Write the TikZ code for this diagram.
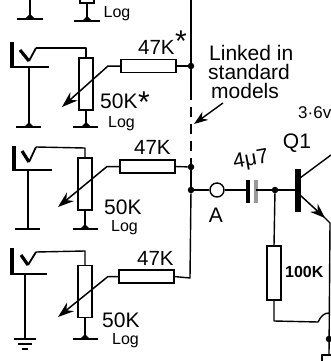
\documentclass[tikz,border=0pt]{standalone}
\usepackage{fontspec}
\setmainfont{Liberation Sans}
\usetikzlibrary{arrows.meta,calc}
\tikzset{
  wire/.style={line width=1.4pt,line join=round},
  resbox/.style={draw,line width=1.3pt,fill=white,inner sep=0pt,outer sep=0pt,rectangle},
  volbox/.style={resbox,minimum width=14pt,minimum height=52pt},
  serbox/.style={resbox,minimum width=55pt,minimum height=13pt},
  dotj/.style={circle,fill=black,inner sep=0pt,minimum size=6.5pt},
  gbar/.style={line width=2.8pt},
  jackl/.style={line width=1.5pt,line join=miter},
  jackv/.style={line width=3.2pt,line cap=butt},
  veethick/.style={line width=3.2pt},
  veethin/.style={line width=1.8pt},
  wiper/.style={line width=1.5pt,-{Stealth[length=16pt,width=11pt]}},
  big/.style={font=\fontsize{20.5}{20}\selectfont,inner sep=0pt},
  fifty/.style={font=\fontsize{21}{21}\selectfont,inner sep=0pt},
  lognote/.style={font=\fontsize{16}{16}\selectfont,inner sep=0pt},
  note/.style={font=\fontsize{21}{21}\selectfont,inner sep=0pt,anchor=base west},
  starmark/.style={font=\fontsize{30}{30}\selectfont,inner sep=0pt},
}
\begin{document}
\begin{tikzpicture}[x=1pt,y=-1pt]
\useasboundingbox (0,0) rectangle (331,361);
\fill[white] (0,0) rectangle (331,361);
\begin{scope}
\clip (0,0) rectangle (331,361);

% top fragment
\coordinate (t1) at (30,0); \coordinate (t1g) at (30,19);
\coordinate (t2) at (87,0); \coordinate (t2g) at (87,21);
\draw[wire] (t1)--(t1g); \draw[wire] (t2)--(t2g);
\node[resbox,minimum width=14pt,minimum height=6pt] at (87,0) {};
\draw[gbar] (17,19)--(43,19); \draw[gbar] (74,21)--(100,21);
\fill (26,18)--(30,14)--(34,18)--cycle; \fill (83,20)--(87,16)--(91,20)--cycle;
\node[lognote] at (117,14) {Log};

% bus
\node[dotj] (j1) at (191,66) {};
\node[dotj] (j2) at (191,167) {};
\node[dotj] (j3) at (191,190) {};
\coordinate (bt) at (191,0);
\coordinate (bd) at (191,90);
\draw[wire] (bt)--(j1)--(bd);
\draw[wire,dash pattern=on 10pt off 7pt] (bd)--(j2);
\draw[wire] (j2)--(j3);

% channel 1
\node[volbox] (v1) at (86,84) {};
\node[serbox,anchor=west] (s1) at (121,66) {};
\draw[jackv] (12,42)--(12,68);
\draw[jackl] (11,67)--(49,67);
\draw[veethick] (20,50)--(29,61);
\draw[veethin] (29,61)--(36,48);
\coordinate (c1) at (36,48);
\draw[wire] (c1)--(86,48)--(v1.north);
\coordinate (g1a) at (29,127); \coordinate (g1b) at (86,127);
\draw[wire] (29,67)--(g1a); \draw[wire] (v1.south)--(g1b);
\draw[gbar] (16,127)--(41,127); \draw[gbar] (73,127)--(98,127);
\fill (25,126)--(29,122)--(33,126)--cycle; \fill (82,126)--(86,122)--(90,126)--cycle;
\draw[wiper] (s1.west)--(108,66)--(62,107);
\draw[wire] (s1.east)--(j1);
\node[big,anchor=west] at (138,47) {47K};
\node[starmark] at (181,41) {*};
\node[fifty,anchor=west] at (100,101) {50K};
\node[starmark] at (144,102) {*};
\node[lognote,anchor=west] at (108,124) {Log};

% channel 2
\node[volbox] (v2) at (85,184) {};
\node[serbox,anchor=west] (s2) at (120,166.5) {};
\draw[jackv] (14,146)--(14,171);
\draw[jackl] (13,170)--(52,170);
\draw[veethick] (22,151)--(29,162);
\draw[veethin] (29,162)--(36,147);
\coordinate (c2) at (36,147);
\draw[wire] (c2)--(85,148)--(v2.north);
\coordinate (g2a) at (28,229); \coordinate (g2b) at (85,229);
\draw[wire] (28,170)--(g2a); \draw[wire] (v2.south)--(g2b);
\draw[gbar] (15,229)--(40,229); \draw[gbar] (73,229)--(98,229);
\fill (81,228)--(85,224)--(89,228)--cycle;
\draw[wiper] (s2.west)--(107,166.5)--(58,207);
\draw[wire] (s2.east)--(j2);
\node[big,anchor=west] at (134,147) {47K};
\node[fifty,anchor=west] at (104,207) {50K};
\node[lognote,anchor=west] at (111,228) {Log};

% channel 3
\node[volbox] (v3) at (85,291.5) {};
\node[serbox,anchor=west] (s3) at (119,276.5) {};
\draw[jackv] (12,248)--(12,275);
\draw[jackl] (11,274)--(47,274);
\draw[veethick] (21,255)--(28,265);
\draw[veethin] (28,265)--(36,252);
\coordinate (c3) at (36,252);
\draw[wire] (c3)--(85,251)--(v3.north);
\coordinate (g3a) at (25,339); \coordinate (g3b) at (85,339);
\draw[wire] (25,274)--(g3a); \draw[wire] (v3.south)--(g3b);
\draw[line width=1.7pt] (14,339)--(36,339) (18,344)--(32,344);
\draw[line width=1.7pt] (22,349)--(28,349);
\draw[gbar] (73,339)--(98,339);
\fill (81,338)--(85,334)--(89,338)--cycle;
\draw[wiper] (s3.west)--(108,276.5)--(58,317);
\draw[wire] (s3.east)--(190,278)--(j3);
\node[big,anchor=west] at (137,258) {47K};
\node[fifty,anchor=west] at (102,320) {50K};
\node[lognote,anchor=west] at (112,341) {Log};

% note
\node[note] (n1) at (209,60) {Linked in};
\node[note] (n2) at (208,79) {standard};
\node[note] (n3) at (211,98) {models};
\coordinate (na) at (223,103); \coordinate (nb) at (194,124);
\draw[line width=1.4pt,-{Stealth[length=14pt,width=10pt]}] (na)--(nb);

% A and coupling cap
\node[circle,draw,line width=1.4pt,fill=white,minimum size=14pt,inner sep=0pt] (A) at (217,190) {};
\node[font=\fontsize{21}{21}\selectfont,inner sep=0pt] at (216,215) {A};
\draw[wire] (j3)--(A);
\coordinate (pl) at (248,190); \coordinate (pr) at (256,190);
\draw[wire] (A)--(pl);
\draw[line width=3.6pt] (248,180)--(248,203);
\draw[line width=3.6pt,black!40] (256,180)--(256,203);
\node[dotj] (j4) at (275,190) {};
\coordinate (base) at (298,190);
\draw[wire] (pr)--(j4)--(base);
\node[font=\fontsize{21}{21}\selectfont,inner sep=0pt,rotate=10] at (251,160) {4μ7};

% 100K
\node[resbox,minimum width=14pt,minimum height=54pt] (r) at (274,273) {};
\draw[wire] (j4)--(r.north);
\node[font=\fontsize{16}{16}\selectfont\bfseries,inner sep=0pt,anchor=west] at (285,272) {100K};
\draw[wire] (r.south)--(274,321)--(318,322) .. controls (321,316) and (324,313) .. (329,313);

% Q1
\draw[line width=5.5pt] (298,169)--(298,212);
\coordinate (col) at (331,155);
\draw[wire] (300,178)--(col);
\coordinate (em) at (330,223);
\draw[line width=1.5pt,-{Stealth[length=15pt,width=11pt]}] (300,195)--(325,218);
\draw[wire] (320,213)--(em)--(329,355);
\node[dotj] (j5) at (329,339) {};
\draw[wire] (331,355)--(322,355)--(322,361);
\node[font=\fontsize{21}{21}\selectfont,inner sep=0pt] at (297,143) {Q1};
\node[font=\fontsize{17}{17}\selectfont,inner sep=0pt,anchor=west] at (298,113) {3·6v};
\end{scope}
\end{tikzpicture}
\end{document}
